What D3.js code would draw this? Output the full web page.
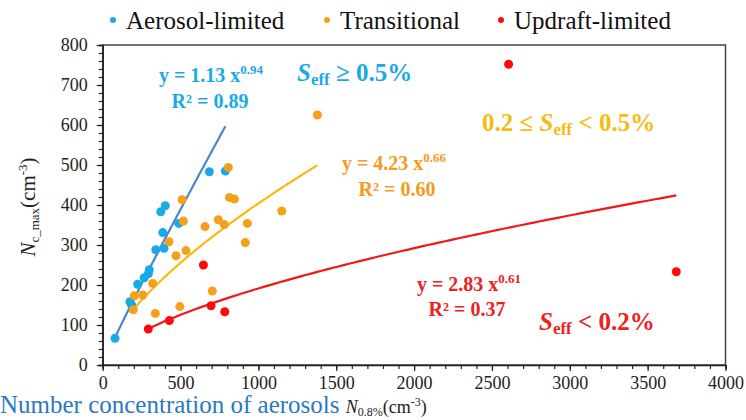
<!DOCTYPE html>
<html><head><meta charset="utf-8">
<script src="https://cdn.jsdelivr.net/npm/d3@7"></script>
</head><body style="margin:0"><svg id="c" width="746" height="420" style="display:block;background:#fff"></svg>
<script>
const aerosolX = [79,175,186,225,267,293,299,341,394,386,488,373,402,685,788];
const aerosolY = [67,158,150,202,218,228,238,288,292,331,354,383,398,483,485];
const transX = [807,510,814,846,1150,518,743,657,781,929,426,916,535,471,321,203,257,197,704,495,338,1379];
const transY = [494,413,419,415,385,360,363,346,351,354,308,306,286,273,204,173,175,138,185,146,129,625];
const updraftX = [647,293,428,696,784,2607,3684];
const updraftY = [250,90,111,148,133,752,233];
const fitA = [1.13, 4.23, 2.83];
const fitB = [0.94, 0.66, 0.61];
const xTicks = [0,500,1000,1500,2000,2500,3000,3500,4000];
const yTicks = [0,100,200,300,400,500,600,700,800];
const legendLabels = ["Aerosol-limited","Transitional","Updraft-limited"];

const fontParts = ["Liberation", "Serif"];
const FF = `"${fontParts.join(" ")}"`;
const svg = d3.select("#c");
const L=102.7, R=725.5, T=45, B=365;
const x = d3.scaleLinear().domain([0,4000]).range([L,R]);
const y = d3.scaleLinear().domain([0,800]).range([B,T]);

// frame
svg.append("rect").attr("x",L).attr("y",T).attr("width",R-L).attr("height",B-T)
  .attr("fill","none").attr("stroke","#444").attr("stroke-width",1.5);

// x axis
const xa = svg.append("g").attr("transform",`translate(0,${B})`)
  .call(d3.axisBottom(x).tickValues(d3.range(0,4001,100)).tickSize(4).tickFormat(""));
xa.select(".domain").attr("stroke","#222").attr("stroke-width",1.5);
xa.selectAll(".tick line").attr("stroke","#222").attr("stroke-width",1.2);
xa.selectAll(".tick text").remove();
const xl = svg.append("g").attr("transform",`translate(0,${B})`)
  .call(d3.axisBottom(x).tickValues(xTicks).tickSize(6).tickPadding(5).tickFormat(d3.format("d")));
xl.select(".domain").remove();
xl.selectAll(".tick line").attr("stroke","#222").attr("stroke-width",1.2);
xl.selectAll("text").attr("font-size",18).attr("fill","#222");

// y axis
const ya = svg.append("g").attr("transform",`translate(${L},0)`)
  .call(d3.axisLeft(y).tickValues(d3.range(0,801,20)).tickSize(4).tickFormat(""));
ya.select(".domain").attr("stroke","#222").attr("stroke-width",1.5);
ya.selectAll(".tick line").attr("stroke","#222").attr("stroke-width",1.2);
ya.selectAll(".tick text").remove();
const yl = svg.append("g").attr("transform",`translate(${L},0)`)
  .call(d3.axisLeft(y).tickValues(yTicks).tickSize(6).tickPadding(9).tickFormat(d3.format("d")));
yl.select(".domain").remove();
yl.selectAll(".tick line").attr("stroke","#222").attr("stroke-width",1.2);
yl.selectAll("text").attr("font-size",18).attr("fill","#222");

// fit curves
const ptColors = ["#1aa9e8","#f5a01a","#ff0a0a"];
const lineColors = ["#4a86c8","#f7bb10","#f01818"];
const sets = [[aerosolX,aerosolY],[transX,transY],[updraftX,updraftY]];
sets.forEach((s,i)=>{
  const [lo,hi] = d3.extent(s[0]);
  const xs = d3.range(0,101).map(k=>lo+(hi-lo)*k/100);
  const line = d3.line().x(d=>x(d)).y(d=>y(fitA[i]*Math.pow(d,fitB[i])));
  svg.append("path").attr("d",line(xs)).attr("fill","none").attr("stroke",lineColors[i]).attr("stroke-width",2.2);
});
// points
sets.forEach((s,i)=>{
  svg.append("g").selectAll("circle").data(s[0]).join("circle")
    .attr("cx",d=>x(d)).attr("cy",(d,j)=>y(s[1][j])).attr("r",4.5).attr("fill",ptColors[i]);
});

// legend
const legX=[113,327,501];
legendLabels.forEach((t,i)=>{
  svg.append("circle").attr("cx",legX[i]).attr("cy",20).attr("r",3).attr("fill",ptColors[i]);
  svg.append("text").attr("x",legX[i]+13).attr("y",29).attr("font-size",25).attr("fill","#111").text(t);
});

// axis titles
const yt = svg.append("text").attr("transform","translate(35,207) rotate(-90)").attr("text-anchor","middle").attr("font-size",21).attr("fill","#222");
yt.append("tspan").attr("font-style","italic").text("N");
yt.append("tspan").attr("font-size",13).attr("dy",4).text("c_max");
yt.append("tspan").attr("dy",-4).text("(cm");
yt.append("tspan").attr("font-size",13).attr("dy",-8).text("-3");
yt.append("tspan").attr("dy",8).text(")");

const xt = svg.append("text").attr("x",0).attr("y",413).attr("font-size",25).attr("fill","#2a78c0");
xt.append("tspan").text("Number concentration of aerosols ");
xt.append("tspan").attr("fill","#222").attr("font-size",18).attr("font-style","italic").text("N");
xt.append("tspan").attr("fill","#222").attr("font-size",12).attr("dy",3).text("0.8%");
xt.append("tspan").attr("fill","#222").attr("font-size",18).attr("dy",-3).text("(cm");
xt.append("tspan").attr("fill","#222").attr("font-size",12).attr("dy",-7).text("-3");
xt.append("tspan").attr("fill","#222").attr("font-size",18).attr("dy",7).text(")");

// annotations
function eq(xc,yc,color,a,b,r2,rc,ry){
  const t = svg.append("text").attr("x",xc).attr("y",yc).attr("text-anchor","middle").attr("font-size",20).attr("font-weight","bold").attr("fill",color);
  t.append("tspan").text(`y = ${a} x`);
  t.append("tspan").attr("font-size",13).attr("dy",-8).text(b);
  svg.append("text").attr("x",rc).attr("y",ry).attr("text-anchor","middle").attr("font-size",20).attr("font-weight","bold").attr("fill",color).text(`R² = ${r2}`);
}
eq(211,82,"#1aa9e8","1.13","0.94","0.89",210,108);
eq(394,170,"#f59a1a","4.23","0.66","0.60",397,196);
eq(469,291,"#ee2020","2.83","0.61","0.37",467,316);

function seff(xs,yc,color,pre,post){
  const t = svg.append("text").attr("x",xs).attr("y",yc).attr("font-size",25).attr("font-weight","bold").attr("fill",color);
  if(pre) t.append("tspan").text(pre);
  t.append("tspan").attr("font-style","italic").text("S");
  t.append("tspan").attr("font-size",17).attr("dy",4).text("eff");
  t.append("tspan").attr("dy",-4).text(" " + post);
}
seff(297,81,"#1aa9e8","","≥ 0.5%");
seff(482,131,"#f7bb10","0.2 ≤ ","< 0.5%");
seff(539,330,"#ee2020","","< 0.2%");

// font on every text element directly
svg.selectAll("text").attr("font-family",FF);
svg.selectAll("g").attr("font-family",null);
</script></body></html>
